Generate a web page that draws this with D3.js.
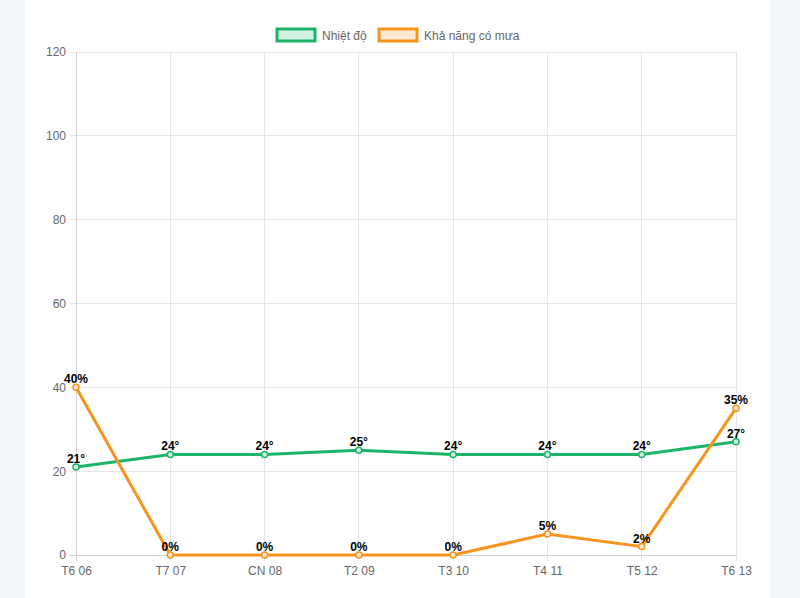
<!DOCTYPE html>
<html><head><meta charset="utf-8">
<script src="https://cdn.jsdelivr.net/npm/d3@7"></script>
<style>
html,body{margin:0;padding:0;background:#f4f7f9;}
svg{display:block;}
</style></head>
<body>
<svg id="chart" width="800" height="598"></svg>
<script>
const categories = ["T6 06","T7 07","CN 08","T2 09","T3 10","T4 11","T5 12","T6 13"];
const temperature = [21,24,24,25,24,24,24,27];
const rainChance = [40,0,0,0,0,5,2,35];
const yTicks = [0,20,40,60,80,100,120];
const seriesNames = ["Nhiệt độ","Khả năng có mưa"];

(function(){
const svg = d3.select("#chart");
const W = 800, H = 598;
svg.append("rect").attr("x",0).attr("y",0).attr("width",W).attr("height",H).attr("fill","#f4f7f9");
svg.append("rect").attr("x",25).attr("y",0).attr("width",745).attr("height",H).attr("fill","#ffffff");

const pLeft = 76, pRight = 736, pTop = 52, pBottom = 555;
const x = d3.scalePoint().domain(categories).range([pLeft,pRight]);
const y = d3.scaleLinear().domain([0,120]).range([pBottom,pTop]);
const font = "'Liberation Sans', Arial, sans-serif";

const g = svg.append("g");
g.selectAll("line.h").data(yTicks).enter().append("line")
  .attr("x1",pLeft-6).attr("x2",pRight).attr("y1",d=>y(d)).attr("y2",d=>y(d))
  .attr("stroke","#e6e6e6").attr("stroke-width",1).attr("shape-rendering","crispEdges");
g.selectAll("line.v").data(categories).enter().append("line")
  .attr("x1",d=>x(d)).attr("x2",d=>x(d)).attr("y1",pTop).attr("y2",pBottom+6)
  .attr("stroke","#e6e6e6").attr("stroke-width",1).attr("shape-rendering","crispEdges");
g.append("line").attr("x1",pLeft).attr("x2",pLeft).attr("y1",pTop).attr("y2",pBottom+6)
  .attr("stroke","#cfcfcf").attr("shape-rendering","crispEdges");
g.append("line").attr("x1",pLeft-6).attr("x2",pRight).attr("y1",pBottom).attr("y2",pBottom)
  .attr("stroke","#cfcfcf").attr("shape-rendering","crispEdges");

const yAxis = d3.axisLeft(y).tickValues(yTicks).tickSize(0).tickPadding(10);
const ya = svg.append("g").attr("transform",`translate(${pLeft},0)`).call(yAxis);
ya.select(".domain").remove();
ya.selectAll("text").attr("fill","#666").style("font-family",font).style("font-size","12px");

const xAxis = d3.axisBottom(x).tickSize(0).tickPadding(11);
const xa = svg.append("g").attr("transform",`translate(0,${pBottom})`).call(xAxis);
xa.select(".domain").remove();
xa.selectAll("text").attr("fill","#666").style("font-family",font).style("font-size","12px");

const colors = ["#1db46a","#f7941d"];
const fills = ["#d2f0e1","#fde9d2"];
const series = [
  {name:seriesNames[0], values:temperature, suffix:"°"},
  {name:seriesNames[1], values:rainChance, suffix:"%"}
];
const line = d3.line().x((d,i)=>x(categories[i])).y(d=>y(d));

series.forEach((s,si)=>{
  svg.append("path").datum(s.values).attr("d",line)
    .attr("fill","none").attr("stroke",colors[si]).attr("stroke-width",3)
    .attr("stroke-linejoin","round");
});
series.forEach((s,si)=>{
  svg.append("g").selectAll("circle").data(s.values).enter().append("circle")
    .attr("cx",(d,i)=>x(categories[i])).attr("cy",d=>y(d)).attr("r",3)
    .attr("fill",fills[si]).attr("stroke",colors[si]).attr("stroke-width",1.5);
});
series.forEach((s,si)=>{
  svg.append("g").selectAll("text").data(s.values).enter().append("text")
    .attr("x",(d,i)=>x(categories[i])).attr("y",d=>y(d)-4)
    .attr("text-anchor","middle").attr("fill","#000")
    .style("font-family",font).style("font-size","12px").style("font-weight","bold")
    .text(d=>d+s.suffix);
});

const legendX = [276,378];
series.forEach((s,si)=>{
  const lx = legendX[si];
  svg.append("rect").attr("x",lx+1).attr("y",29).attr("width",38).attr("height",12)
    .attr("fill",fills[si]).attr("stroke",colors[si]).attr("stroke-width",3);
  svg.append("text").attr("x",lx+46).attr("y",39.5).attr("fill","#666")
    .style("font-family",font).style("font-size","12px").text(s.name);
});
})();
</script>
</body></html>
